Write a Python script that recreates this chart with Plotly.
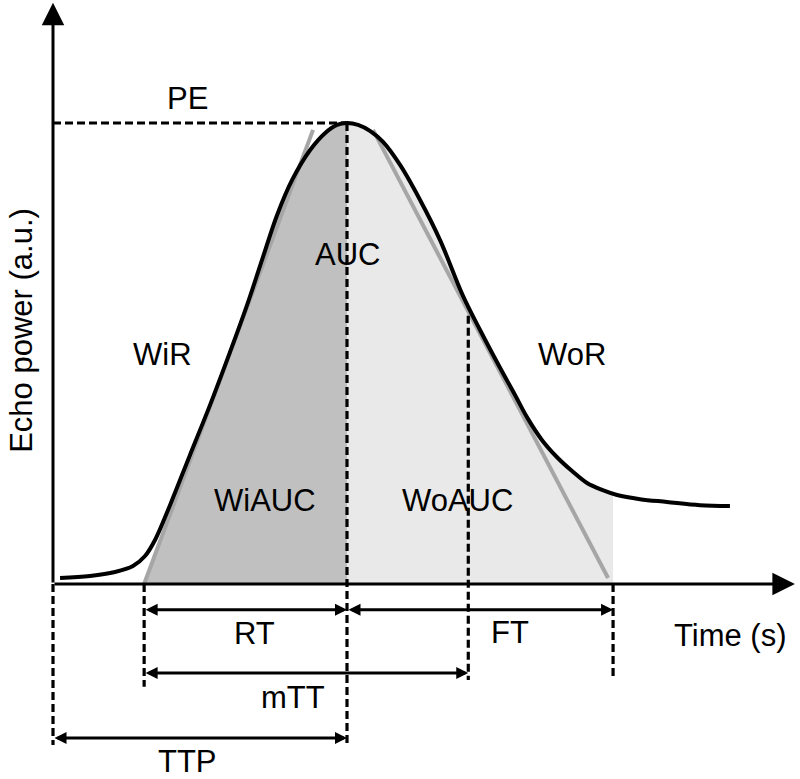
import numpy as np
import plotly.graph_objects as go

# ---- data (time in s, echo power in a.u.; PE = 100, TTP = 20 s) ----
curve_t = [0.48, 2.52, 4.22, 5.44, 6.26, 6.94, 7.96, 9.32, 10.68, 12.04, 13.20, 14.22,
           15.24, 16.26, 17.48, 18.50, 19.32, 20.0, 20.75, 21.56, 22.45, 23.61, 24.97,
           26.33, 27.89, 29.05, 30.41, 31.43, 32.24, 33.27, 34.29, 35.31, 36.33, 37.35,
           38.37, 39.93, 41.77, 44.01, 46.05]
curve_p = [1.3, 1.74, 2.6, 3.9, 6.07, 9.54, 17.1, 28.0, 38.8, 50.3, 60.5, 70.3,
           80.0, 87.6, 94.1, 97.8, 99.6, 100.0, 99.6, 98.3, 95.9, 90.9, 83.3,
           74.6, 62.5, 55.1, 46.9, 41.0, 36.2, 31.2, 27.5, 24.5, 21.9, 20.4,
           19.3, 18.4, 17.8, 17.1, 16.9]

rise_line_t = [6.2, 17.69]
rise_line_p = [0.0, 98.5]
fall_line_t = [21.77, 37.76]
fall_line_p = [98.5, 1.3]

t_rise_start = 6.2
t_ttp = 20.0
t_mtt = 28.25
t_ft_end = 38.1
pe_value = 100.0

# dimension rows (echo power level below the time axis)
row_rt_ft = -5.6
row_mtt = -19.3
row_ttp = -33.4

labels = ["PE", "AUC", "WiR", "WiAUC", "WoAUC", "WoR", "RT", "FT", "mTT", "TTP", "Time (s)"]
label_t = [9.12, 20.0, 7.48, 14.42, 27.55, 35.31, 13.74, 31.09, 16.33, 9.18, 46.1]
label_p = [105.4, 71.4, 49.7, 18.2, 18.2, 49.7, -10.8, -10.6, -24.7, -38.6, -11.1]

# ---- geometry of the canvas ----
W, H = 800, 779
x_px0, x_scale = 53.0, 14.7     # pixel of t=0, pixels per second
y_px0, y_scale = 584.0, 4.61    # pixel of P=0, pixels per a.u.
x_range = [-x_px0 / x_scale, (W - x_px0) / x_scale]
y_range = [-(H - y_px0) / y_scale, y_px0 / y_scale]

ct = np.array(curve_t)
cp = np.array(curve_p)

BLACK = "#000000"
FONT = dict(family="Liberation Sans, Arial, sans-serif", size=31, color=BLACK)

fig = go.Figure()

# dark fill (wash-in area)
rise_slope = (rise_line_p[1] - rise_line_p[0]) / (rise_line_t[1] - rise_line_t[0])
t_join = 9.4
p_join = rise_line_p[0] + rise_slope * (t_join - rise_line_t[0])
m = (ct > t_join + 0.5) & (ct <= t_ttp)
dark_x = [t_rise_start, t_join] + list(ct[m]) + [t_ttp, t_rise_start]
dark_y = [0.0, p_join] + list(cp[m]) + [0.0, 0.0]
fig.add_trace(go.Scatter(x=dark_x, y=dark_y, fill="toself", fillcolor="#c0c0c0",
                         line=dict(width=0), mode="lines", hoverinfo="skip"))

# light fill (wash-out area)
m2 = (ct >= t_ttp) & (ct <= t_ft_end)
p_end = float(np.interp(t_ft_end, ct, cp))
light_x = list(ct[m2]) + [t_ft_end, t_ft_end, t_ttp]
light_y = list(cp[m2]) + [p_end, 0.0, 0.0]
fig.add_trace(go.Scatter(x=light_x, y=light_y, fill="toself", fillcolor="#e9e9e9",
                         line=dict(width=0), mode="lines", hoverinfo="skip"))

# tangent lines (gray)
for lx, ly in [(rise_line_t, rise_line_p), (fall_line_t, fall_line_p)]:
    fig.add_trace(go.Scatter(x=lx, y=ly, mode="lines",
                             line=dict(color="#a6a6a6", width=4), hoverinfo="skip"))

# time-intensity curve
fig.add_trace(go.Scatter(x=curve_t, y=curve_p, mode="lines", line_shape="spline",
                         line=dict(color=BLACK, width=4), hoverinfo="skip"))

# dashed lines
dash = "8px,4px"
dashed = [
    ([0, t_ttp], [pe_value, pe_value]),
    ([t_ttp, t_ttp], [pe_value, row_ttp - 1.5]),
    ([0, 0], [0, row_ttp - 1.5]),
    ([t_rise_start, t_rise_start], [0, row_mtt - 3.0]),
    ([t_mtt, t_mtt], [float(np.interp(t_mtt, ct, cp)) - 2, row_mtt - 1.5]),
    ([t_ft_end, t_ft_end], [0, row_mtt - 1.5]),
]
for dx, dy in dashed:
    fig.add_trace(go.Scatter(x=dx, y=dy, mode="lines",
                             line=dict(color=BLACK, width=3.2, dash=dash), hoverinfo="skip"))

annotations = []

# axes with arrowheads
annotations.append(dict(x=0, y=y_range[1] - 0.6, ax=0, ay=0, xref="x", yref="y",
                        axref="x", ayref="y", showarrow=True, arrowhead=2, arrowsize=1.5,
                        arrowwidth=3, arrowcolor=BLACK, text="", standoff=0))
annotations.append(dict(x=x_range[1] - 0.35, y=0, ax=0, ay=0, xref="x", yref="y",
                        axref="x", ayref="y", showarrow=True, arrowhead=2, arrowsize=1.5,
                        arrowwidth=3, arrowcolor=BLACK, text="", standoff=0))

# double-headed dimension arrows
for (t0, t1, row) in [(t_rise_start, t_ttp, row_rt_ft), (t_ttp, t_ft_end, row_rt_ft),
                      (t_rise_start, t_mtt, row_mtt), (0, t_ttp, row_ttp)]:
    annotations.append(dict(x=t1, y=row, ax=t0, ay=row, xref="x", yref="y",
                            axref="x", ayref="y", showarrow=True, arrowhead=2,
                            startarrowhead=2, arrowside="end+start", arrowsize=0.8,
                            startarrowsize=0.8, arrowwidth=3, arrowcolor=BLACK,
                            text="", standoff=0, startstandoff=0))

# text labels
for txt, tx, ty in zip(labels, label_t, label_p):
    annotations.append(dict(x=tx, y=ty, xref="x", yref="y", text=txt, showarrow=False,
                            font=FONT, xanchor="center", yanchor="middle"))

# y-axis title
annotations.append(dict(x=-2.15, y=55.0, xref="x", yref="y", text="Echo power (a.u.)",
                        textangle=-90, showarrow=False, font=FONT,
                        xanchor="center", yanchor="middle"))

fig.update_layout(
    width=W, height=H,
    margin=dict(l=0, r=0, t=0, b=0),
    paper_bgcolor="white", plot_bgcolor="white",
    showlegend=False,
    xaxis=dict(range=x_range, visible=False, fixedrange=True),
    yaxis=dict(range=y_range, visible=False, fixedrange=True),
    annotations=annotations,
)

fig.write_html("out.html", config={"displayModeBar": False},
               post_script="document.body.style.margin='0px';document.body.style.overflow='hidden';")
